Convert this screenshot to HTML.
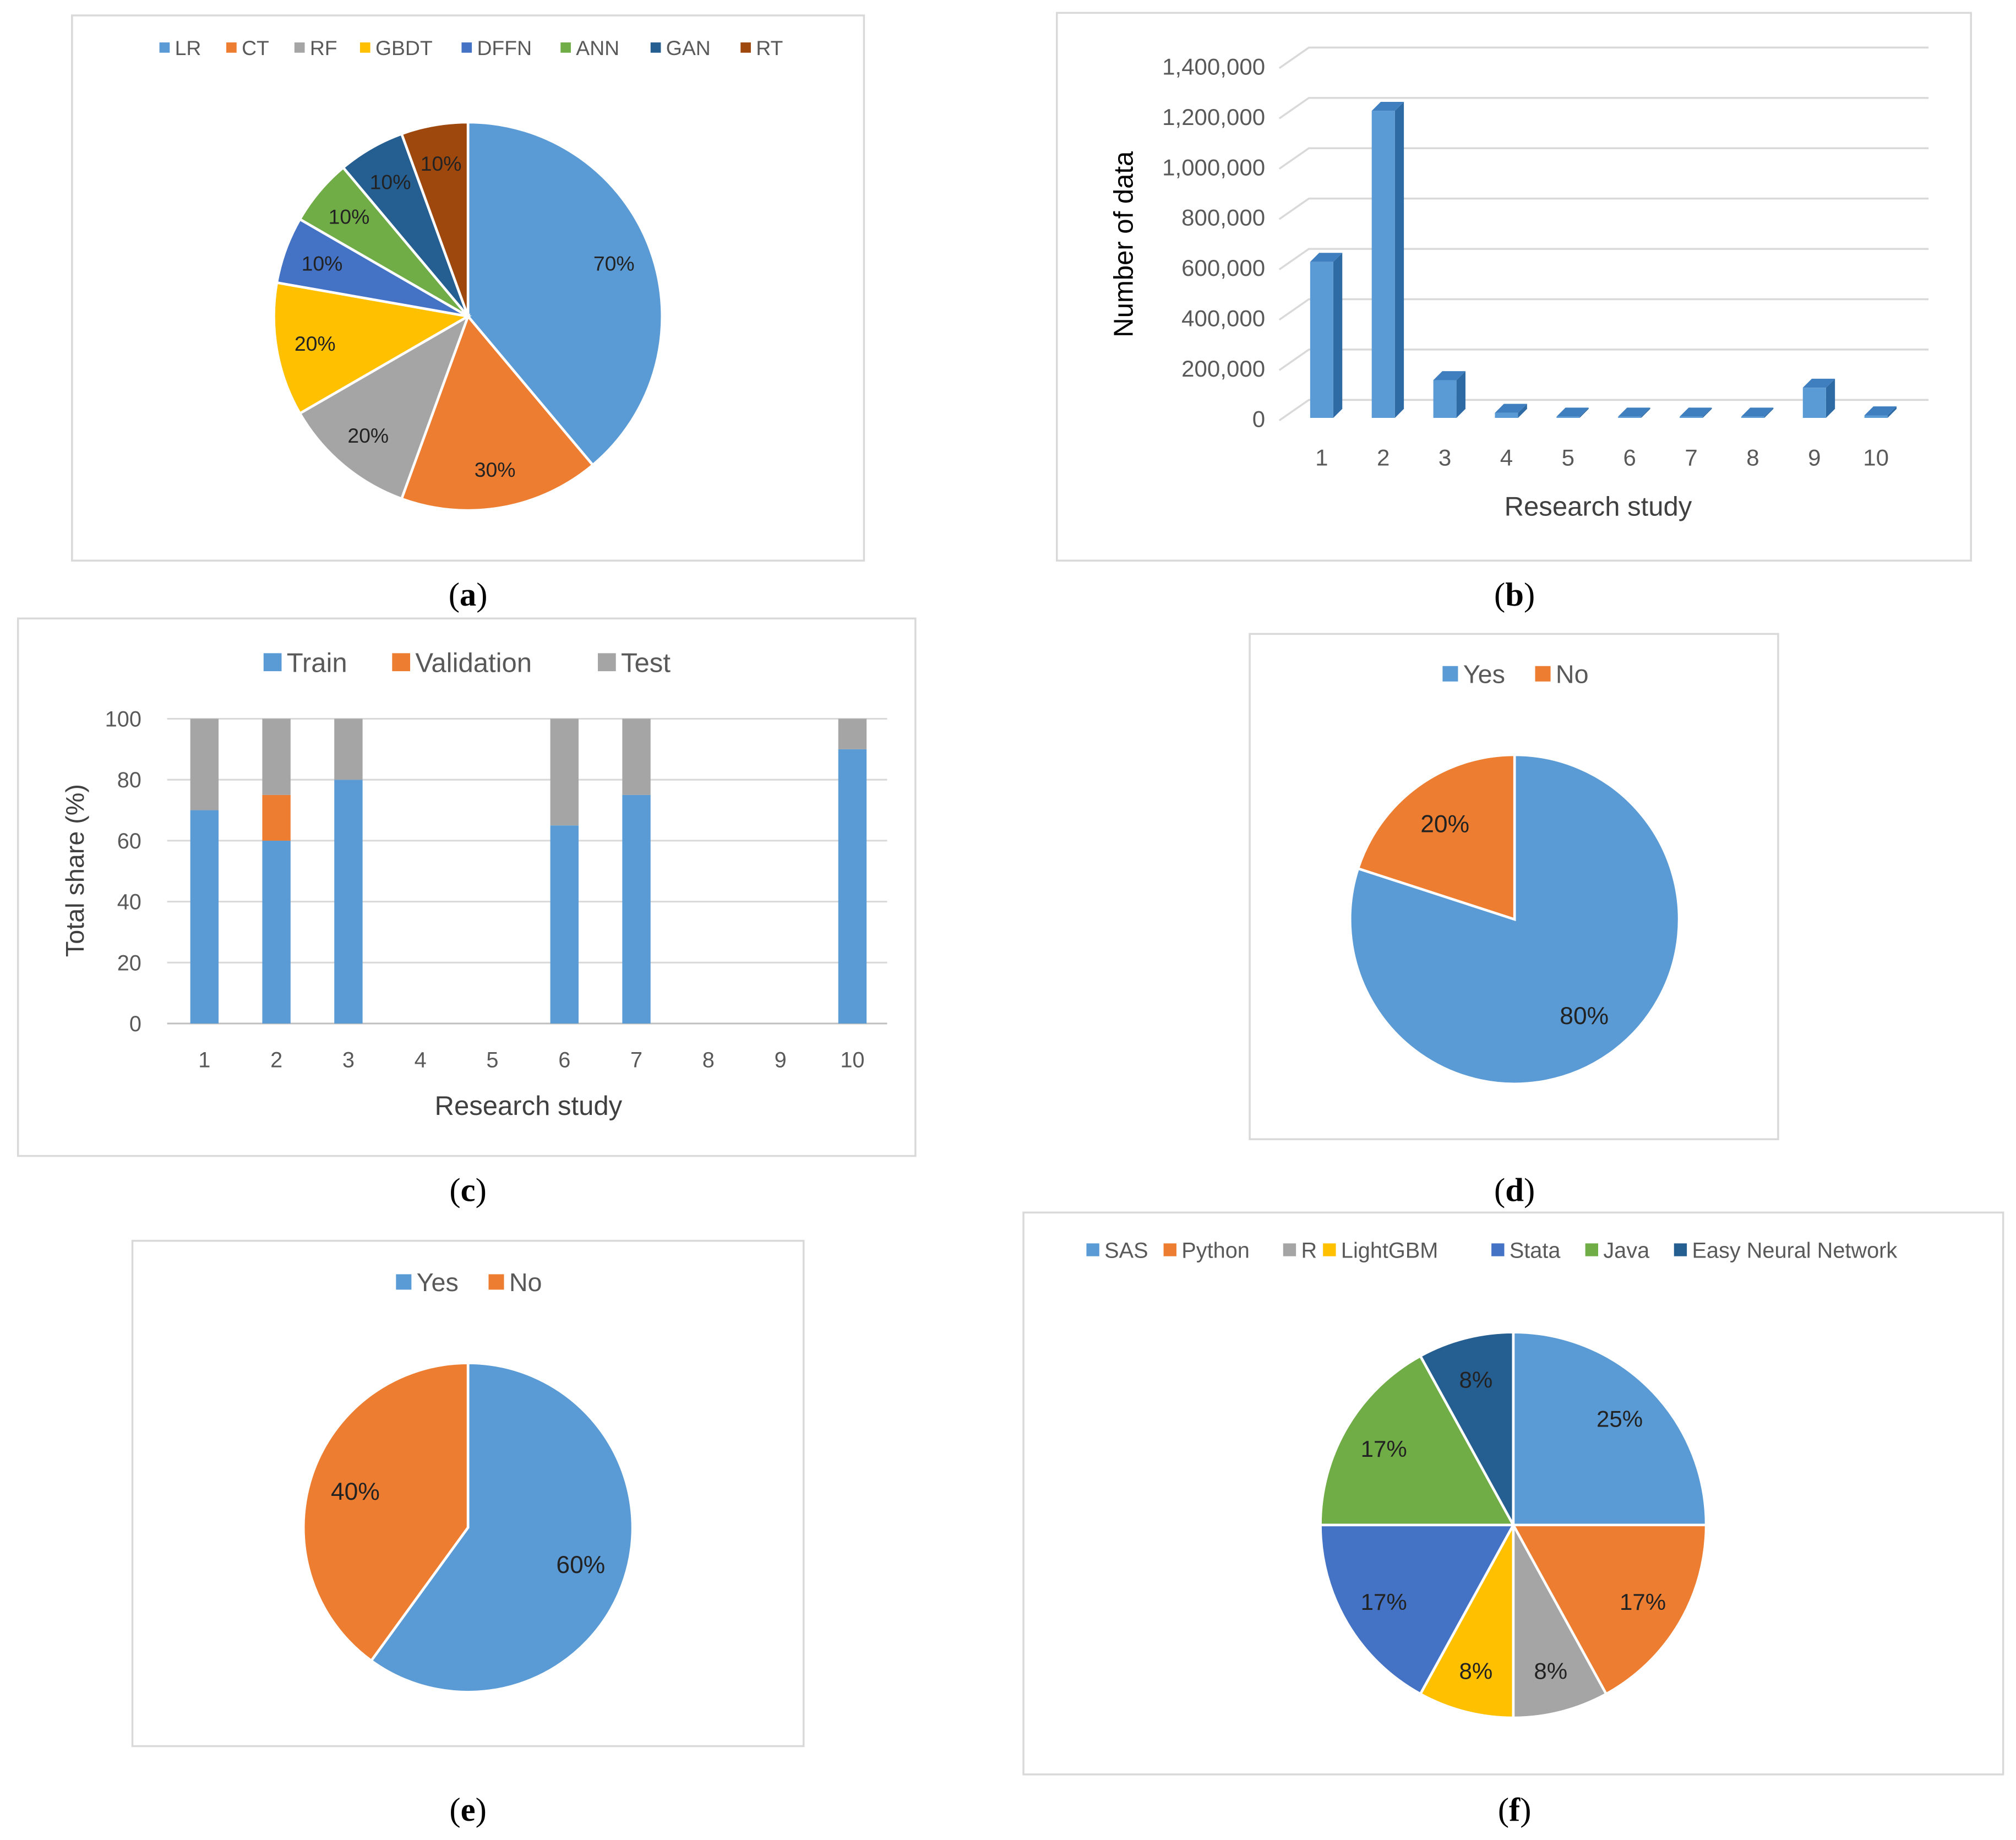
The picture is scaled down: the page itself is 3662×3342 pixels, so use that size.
<!DOCTYPE html>
<html><head><meta charset="utf-8"><style>
html,body{margin:0;padding:0;background:#fff;}
svg{display:block;}
text{font-family:"Liberation Sans",sans-serif;}
</style></head><body>
<svg id="root" width="3662" height="3342" viewBox="0 0 1568 1431" preserveAspectRatio="none" xmlns="http://www.w3.org/2000/svg">
<rect x="0" y="0" width="1568" height="1431" fill="#fff"/>
</svg>
<script>
// ---- data ----
const aLabels = ["LR","CT","RF","GBDT","DFFN","ANN","GAN","RT"];
const aValues = [70,30,20,20,10,10,10,10];
const bCategories = ["1","2","3","4","5","6","7","8","9","10"];
const bValues = [620000,1220000,150000,20000,5000,5000,5000,5000,120000,10000];
const bTicks = ["0","200,000","400,000","600,000","800,000","1,000,000","1,200,000","1,400,000"];
const bTickValues = [0,200000,400000,600000,800000,1000000,1200000,1400000];
const cCategories = ["1","2","3","4","5","6","7","8","9","10"];
const cTrain = [70,60,80,0,0,65,75,0,0,90];
const cValidation = [0,15,0,0,0,0,0,0,0,0];
const cTest = [30,25,20,0,0,35,25,0,0,10];
const cTicks = [0,20,40,60,80,100];
const dLabels = ["Yes","No"];
const dValues = [80,20];
const eLabels = ["Yes","No"];
const eValues = [60,40];
const fLabels = ["SAS","Python","R","LightGBM","Stata","Java","Easy Neural Network"];
const fValues = [25,17,8,8,17,17,8];

const NS="http://www.w3.org/2000/svg";
const root=document.getElementById('root');
function mk(tag,attrs,parent,txt){const e=document.createElementNS(NS,tag);for(const k in attrs)e.setAttribute(k,attrs[k]);if(txt!==undefined)e.textContent=txt;(parent||root).appendChild(e);return e;}
const pal8=["#5b9bd5","#ed7d31","#a5a5a5","#ffc000","#4472c4","#70ad47","#255e91","#9e480e"];

function box(x,y,w,h,name){
  const r=mk('rect',{x:x,y:y,width:w,height:h,fill:'#fff',stroke:'#d9d9d9','stroke-width':1.5});
  
  
}
function caption(x,y,t,name){
  const g=mk('text',{x:x,y:y,'text-anchor':'middle','font-size':26,fill:'#000',style:'font-family:"Liberation Serif",serif'});
  
  
  mk('tspan',{},g,'(');mk('tspan',{'font-weight':'bold'},g,t);mk('tspan',{},g,')');
}
function legend(items,colors,y,fs,sq,name){
  items.forEach((it,i)=>{
    const s=mk('rect',{x:it.x,y:y-sq/2,width:sq,height:sq,fill:colors[i]});
    
    
    const t=mk('text',{x:it.x+sq+4,y:y+fs*0.36,'font-size':fs,fill:'#595959'},null,it.label);
    
    
  });
}
function pie(cx,cy,r,values,colors,fs,lr,name){
  const tot=values.reduce((a,b)=>a+b,0);let a0=0;
  values.forEach((v,i)=>{
    const a1=a0+v/tot*2*Math.PI;
    const x0=cx+r*Math.sin(a0),y0=cy-r*Math.cos(a0),x1=cx+r*Math.sin(a1),y1=cy-r*Math.cos(a1);
    const large=(a1-a0)>Math.PI?1:0;
    const p=mk('path',{d:`M${cx},${cy} L${x0},${y0} A${r},${r} 0 ${large} 1 ${x1},${y1} Z`,fill:colors[i],stroke:'#fff','stroke-width':2});
    
    
    const am=(a0+a1)/2;
    const t=mk('text',{x:cx+lr*r*Math.sin(am),y:cy-lr*r*Math.cos(am)+fs*0.36,'text-anchor':'middle','font-size':fs,fill:'#222'},null,v+'%');
    
    
    a0=a1;
  });
}

// ===== (a) =====
box(56,12,616,424,'chart-a-frame');
legend([{label:"LR",x:124},{label:"CT",x:176},{label:"RF",x:229},{label:"GBDT",x:280},{label:"DFFN",x:359},{label:"ANN",x:436},{label:"GAN",x:506},{label:"RT",x:576}],pal8,37,16,8,'legend-a');
pie(364,246,151,aValues,pal8,16,0.8,'pie-a');
caption(364,471,'a','caption-a');

// ===== (b) =====
box(822,10,711,426,'chart-b-frame');
(function(){
  const y0=325,ppv=(325-51)/1400000,dx=7,dy=7;
  const ys=v=>y0-v*ppv;
  const xs=i=>1028+i*47.9;
  bTickValues.forEach((tv,i)=>{
    const y=ys(tv);
    const gl=mk('path',{d:`M995,${y+2} L1018,${y-14} L1500,${y-14}`,fill:'none',stroke:'#d9d9d9','stroke-width':1.5});
    
    
    const t=mk('text',{x:984,y:y+7,'text-anchor':'end','font-size':18,fill:'#595959'},null,bTicks[i]);
    
    
  });
  bValues.forEach((v,i)=>{
    const x=xs(i)-9,w=18,top=ys(v),h=y0-top;
    const g=mk('g',{});
    
    
    mk('path',{d:`M${x+w},${top} L${x+w+dx},${top-dy} L${x+w+dx},${y0-dy} L${x+w},${y0} Z`,fill:'#2e6aa3'},g);
    mk('path',{d:`M${x},${top} L${x+dx},${top-dy} L${x+w+dx},${top-dy} L${x+w},${top} Z`,fill:'#3f7fbf'},g);
    mk('rect',{x:x,y:top,width:w,height:h,fill:'#5b9bd5'},g);
    const t=mk('text',{x:xs(i),y:362,'text-anchor':'middle','font-size':18,fill:'#595959'},null,bCategories[i]);
    
    
  });
  const yt=mk('text',{x:0,y:0,transform:'translate(881,190) rotate(-90)','text-anchor':'middle','font-size':21,fill:'#000'},null,'Number of data');
  
  
  const xt=mk('text',{x:1243,y:401,'text-anchor':'middle','font-size':21,fill:'#404040'},null,'Research study');
  
  
})();
caption(1178,471,'b','caption-b');

// ===== (c) =====
box(14,481,698,418,'chart-c-frame');
legend([{label:"Train",x:205},{label:"Validation",x:305},{label:"Test",x:465}],["#5b9bd5","#ed7d31","#a5a5a5"],515,21,14,'legend-c');
(function(){
  const y0=796,ppv=(796-559)/100;const ys=v=>y0-v*ppv;const xs=i=>159+i*56;
  cTicks.forEach(tv=>{
    const y=ys(tv);
    const gl=mk('line',{x1:130,x2:690,y1:y,y2:y,stroke:tv===0?'#bfbfbf':'#d9d9d9','stroke-width':1.3});
    
    
    const t=mk('text',{x:110,y:y+6,'text-anchor':'end','font-size':17,fill:'#595959'},null,String(tv));
    
    
  });
  cCategories.forEach((c,i)=>{
    const w=22,x=xs(i)-w/2;let base=0;
    [[cTrain,'#5b9bd5','train'],[cValidation,'#ed7d31','validation'],[cTest,'#a5a5a5','test']].forEach(s=>{
      const v=s[0][i];if(v>0){
        const r=mk('rect',{x:x,y:ys(base+v),width:w,height:v*ppv,fill:s[1]});
        
        
      }
      base+=v;
    });
    const t=mk('text',{x:xs(i),y:830,'text-anchor':'middle','font-size':17,fill:'#595959'},null,c);
    
    
  });
  const yt=mk('text',{x:0,y:0,transform:'translate(65,677) rotate(-90)','text-anchor':'middle','font-size':20,fill:'#404040'},null,'Total share (%)');
  
  
  const xt=mk('text',{x:411,y:867,'text-anchor':'middle','font-size':21,fill:'#404040'},null,'Research study');
  
  
})();
caption(364,934,'c','caption-c');

// ===== (d) =====
box(972,493,411,393,'chart-d-frame');
legend([{label:"Yes",x:1122},{label:"No",x:1194}],["#5b9bd5","#ed7d31"],524,20,12,'legend-d');
pie(1178,715,128,dValues,["#5b9bd5","#ed7d31"],19,0.72,'pie-d');
caption(1178,934,'d','caption-d');

// ===== (e) =====
box(103,965,522,393,'chart-e-frame');
legend([{label:"Yes",x:308},{label:"No",x:380}],["#5b9bd5","#ed7d31"],997,20,12,'legend-e');
pie(364,1188,128,eValues,["#5b9bd5","#ed7d31"],19,0.72,'pie-e');
caption(364,1416,'e','caption-e');

// ===== (f) =====
box(796,943,762,437,'chart-f-frame');
legend([{label:"SAS",x:845},{label:"Python",x:905},{label:"R",x:998},{label:"LightGBM",x:1029},{label:"Stata",x:1160},{label:"Java",x:1233},{label:"Easy Neural Network",x:1302}],["#5b9bd5","#ed7d31","#a5a5a5","#ffc000","#4472c4","#70ad47","#255e91"],972,17,10,'legend-f');
pie(1177,1186,150,fValues,["#5b9bd5","#ed7d31","#a5a5a5","#ffc000","#4472c4","#70ad47","#255e91"],18,0.78,'pie-f');
caption(1178,1416,'f','caption-f');
</script>
</body></html>
